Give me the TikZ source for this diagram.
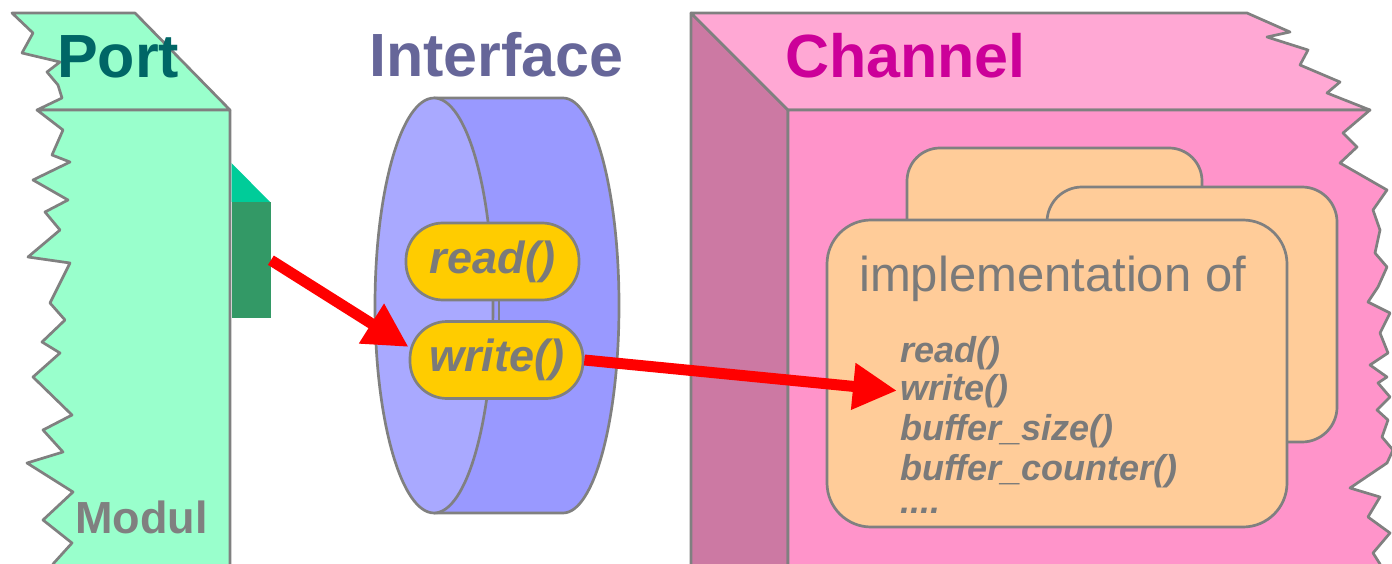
\documentclass[tikz,border=0pt]{standalone}
\usepackage{fontspec}
\setmainfont{Liberation Sans}
\usetikzlibrary{arrows.meta}
\definecolor{edge}{HTML}{808080}
\definecolor{txtgray}{HTML}{7A7A7A}
\definecolor{modfill}{HTML}{99FFCC}
\definecolor{porttop}{HTML}{00CC99}
\definecolor{portdark}{HTML}{339966}
\definecolor{porttext}{HTML}{006666}
\definecolor{iftext}{HTML}{666699}
\definecolor{cylbody}{HTML}{9999FF}
\definecolor{cylfront}{HTML}{A9A9FF}
\definecolor{pillfill}{HTML}{FFCC00}
\definecolor{chtop}{HTML}{FFA8D4}
\definecolor{chfront}{HTML}{FF94CA}
\definecolor{chside}{HTML}{CC79A3}
\definecolor{chtext}{HTML}{CC0099}
\definecolor{cardfill}{HTML}{FFCC99}
\begin{document}
\begin{tikzpicture}[x=1pt,y=-1pt,
  outline/.style={draw=edge, line width=2.7pt, line join=round},
  pill/.style={outline, fill=pillfill, rounded corners=37pt, minimum width=173pt,
    minimum height=77pt, inner sep=0pt, text=txtgray,
    font=\fontsize{45}{45}\selectfont\bfseries\itshape},
  card/.style={outline, fill=cardfill},
  title/.style={inner sep=0pt, anchor=base west, font=\fontsize{61}{61}\selectfont\bfseries},
  item/.style={inner sep=0pt, anchor=base west, text=txtgray,
    font=\fontsize{36}{36}\selectfont\bfseries\itshape},
  flow/.style={draw=red, line width=11pt, -{Triangle[length=44pt,width=44pt]}}]
\useasboundingbox (0,0) rectangle (1392,564);

% ---------- module with port ----------
\draw[outline, fill=modfill] (12,13) -- (135,13) -- (230,110) -- (37,110) -- (62,98) -- (58,85)
  -- (47,72) -- (60,62) -- (22,53) -- (33,33) -- cycle;
\draw[outline, fill=modfill] (37,110) -- (230,110) -- (230,575) -- (55,575) -- (53,564)
  -- (72,543) -- (43,520) -- (73,492) -- (27,463) -- (63,452) -- (43,430) -- (72,415)
  -- (33,377) -- (60,353) -- (42,342) -- (65,320) -- (50,303) -- (70,263) -- (28,257)
  -- (60,230) -- (45,212) -- (68,200) -- (33,180) -- (70,162) -- (52,155) -- (63,130) -- cycle;
\fill[porttop] (231.5,163) -- (270,202) -- (231.5,202) -- cycle;
\node[fill=portdark, minimum width=39pt, minimum height=116pt, inner sep=0pt,
  anchor=north west] (port) at (231.5,202) {};
\node[title, text=porttext] (porttitle) at (57,78) {Port};
\node[inner sep=0pt, anchor=base west, text=edge,
  font=\fontsize{45}{45}\selectfont\bfseries] (modul) at (75,533) {Modul};

% ---------- interface cylinder ----------
\draw[outline, fill=cylbody] (434,98) -- (563,98)
  arc[start angle=90, end angle=-90, x radius=56pt, y radius=207.5pt] -- (434,513);
\draw[outline, fill=cylfront] (434,305.5) ellipse[x radius=59pt, y radius=207.5pt];
\node[title, text=iftext] (iftitle) at (369,77) {Interface};
\node[pill] (rd) at (492.5,261.5) {read()};
\node[pill] (wr) at (496.5,360) {write()};
\draw[outline] (rd.south -| 499,0) -- (wr.north -| 499,0);

% ---------- channel ----------
\draw[outline, fill=chside] (691,13) -- (788,110) -- (788,575) -- (691,575) -- cycle;
\draw[outline, fill=chtop] (691,13) -- (1247,13) -- (1290,32) -- (1267,37) -- (1308,50)
  -- (1300,65) -- (1340,82) -- (1327,93) -- (1370,110) -- (788,110) -- cycle;
\draw[outline, fill=chfront] (788,110) -- (1370,110) -- (1343,133) -- (1357,147) -- (1340,163)
  -- (1387,190) -- (1373,210) -- (1380,230) -- (1375,253) -- (1387,267) -- (1378,287)
  -- (1368,302) -- (1390,313) -- (1380,333) -- (1388,353) -- (1370,365) -- (1387,377)
  -- (1378,383) -- (1390,397) -- (1377,410) -- (1388,420) -- (1382,437) -- (1393,450)
  -- (1387,463) -- (1350,488) -- (1380,497) -- (1368,517) -- (1390,533) -- (1373,553)
  -- (1380,564) -- (1382,575) -- (788,575) -- cycle;
\node[title, text=chtext] (chtitle) at (785,78) {Channel};

% implementation cards
\draw[card, rounded corners=33pt] (907,148) rectangle (1202,440);
\draw[card, rounded corners=35pt] (1047,187) rectangle (1337,442);
\draw[card, rounded corners=44pt] (827,220) rectangle (1287,527);
\node[inner sep=0pt, anchor=base west, text=txtgray, font=\fontsize{49}{49}\selectfont]
  (impl) at (859,291) {implementation of};
\node[item] (cread) at (900,362) {read()};
\node[item] (cwrite) at (900,400) {write()};
\node[item] (csize) at (900,440) {buffer\_size()};
\node[item] (ccount) at (900,480) {buffer\_counter()};
\node[item] (cmore) at (900,513) {....};

% ---------- call flow ----------
\draw[flow] (port.east) -- ([yshift=13pt]wr.west);
\draw[flow] (wr.east) -- ([xshift=-3pt]cwrite.west);
\end{tikzpicture}
\end{document}
